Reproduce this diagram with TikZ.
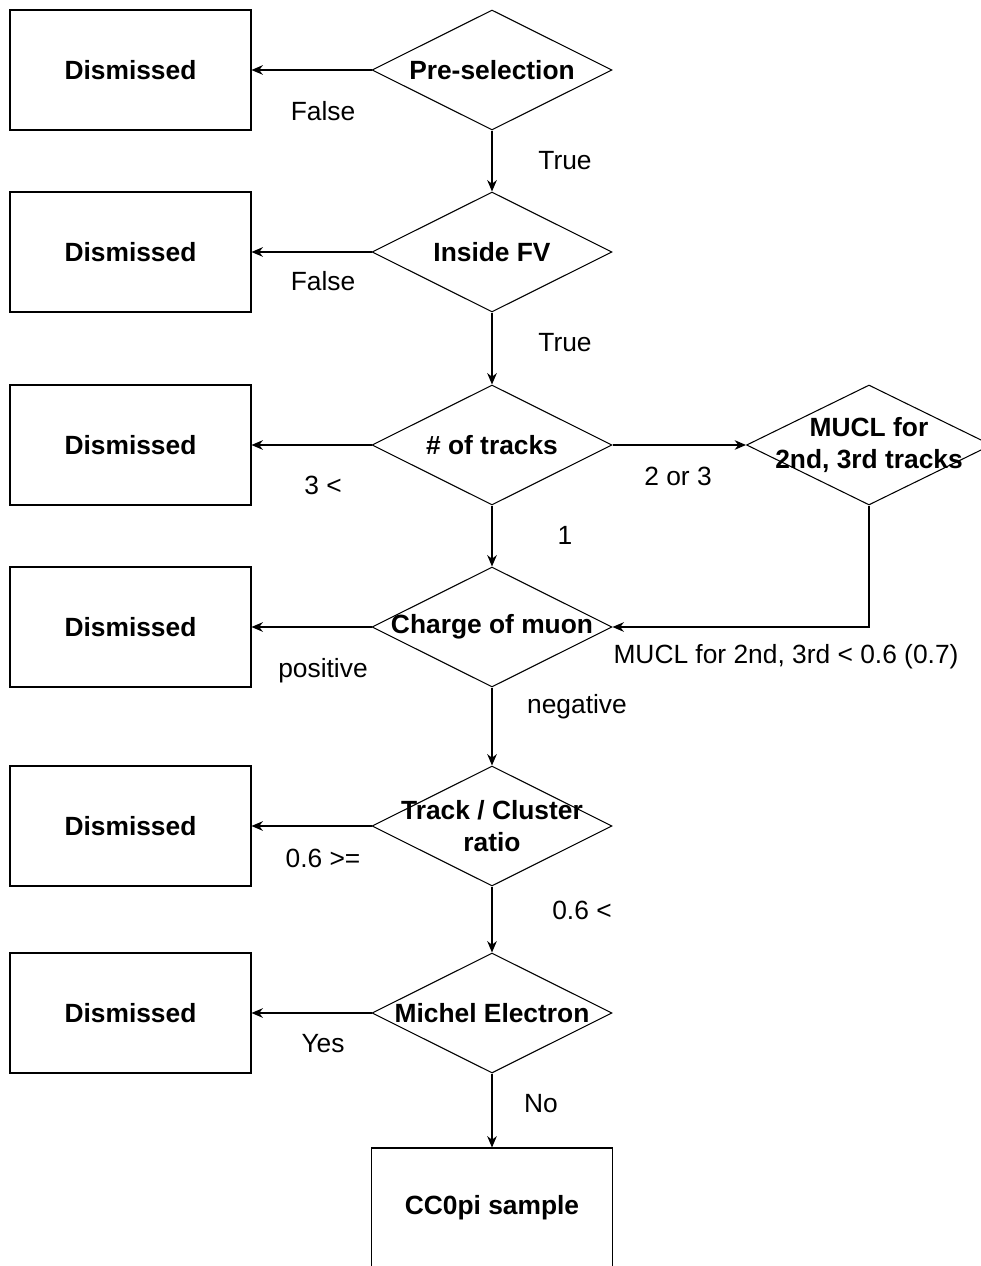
\documentclass[tikz,border=0pt]{standalone}
\usepackage{fontspec}
\setmainfont{Liberation Sans}
\usetikzlibrary{arrows.meta,shapes.geometric}

\begin{document}
\begin{tikzpicture}[x=0.02cm,y=-0.02cm,line width=0.6pt,>={Stealth[length=6.5pt,width=5.5pt]},
    box/.style={draw, minimum width=4.82cm, minimum height=2.4cm, inner sep=0pt,
                font=\fontsize{15}{18.5}\selectfont\bfseries, align=center},
    dec/.style={draw, diamond, minimum width=4.8cm, minimum height=2.4cm, inner sep=0pt},
    dtxt/.style={font=\fontsize{15}{18.5}\selectfont\bfseries, align=center, inner sep=0pt},
    lbl/.style={font=\fontsize{15}{18}\selectfont, inner sep=0pt, text height=10.7pt, text depth=0pt}]
  \useasboundingbox (0,0) rectangle (980,1266);
  % ---- rejected events ----
  \node[box] (b1) at (130.5,70)   {Dismissed};
  \node[box] (b2) at (130.5,252)  {Dismissed};
  \node[box] (b3) at (130.5,445)  {Dismissed};
  \node[box] (b4) at (130.5,627)  {Dismissed};
  \node[box] (b5) at (130.5,826)  {Dismissed};
  \node[box] (b6) at (130.5,1013) {Dismissed};
  % ---- cuts ----
  \node[dec] (d1) at (492,70)   {};
  \node[dec] (d2) at (492,252)  {};
  \node[dec] (d3) at (492,445)  {};
  \node[dec] (d4) at (492,627)  {};
  \node[dec] (d5) at (492,826)  {};
  \node[dec] (d6) at (492,1013) {};
  \node[dec, minimum width=4.9cm] (dm) at (869,445) {};
  \node[dtxt] (t1) at (d1) {Pre-selection};
  \node[dtxt] (t2) at (d2) {Inside FV};
  \node[dtxt] (t3) at (d3) {\# of tracks};
  \node[dtxt] (t4) at (d4) {Charge of muon};
  \node[dtxt] (t5) at (d5) {Track / Cluster\\ratio};
  \node[dtxt] (t6) at (d6) {Michel Electron};
  \node[dtxt] (tm) at (dm) {MUCL for\\2nd, 3rd tracks};
  \node[box] (cc) at (492,1208) {CC0pi sample};
  % ---- flow ----
  \foreach \i in {1,...,6} \draw[->] (d\i.west) -- (b\i.east);
  \draw[->] (d1.south) -- (d2.north);
  \draw[->] (d2.south) -- (d3.north);
  \draw[->] (d3.south) -- (d4.north);
  \draw[->] (d4.south) -- (d5.north);
  \draw[->] (d5.south) -- (d6.north);
  \draw[->] (d6.south) -- (cc.north);
  \draw[->] (d3.east) -- (dm.west);
  \draw[->] (dm.south) |- (d4.east);
  % ---- labels ----
  \node[lbl] (l1)  at (323,111)  {False};
  \node[lbl] (l2)  at (565,160)  {True};
  \node[lbl] (l3)  at (323,281)  {False};
  \node[lbl] (l4)  at (565,342)  {True};
  \node[lbl] (l5)  at (323,485)  {3 <};
  \node[lbl] (l6)  at (678,476)  {2 or 3};
  \node[lbl] (l7)  at (565,535)  {1};
  \node[lbl] (l8)  at (786,654)  {MUCL for 2nd, 3rd < 0.6 (0.7)};
  \node[lbl] (l9)  at (323,668)  {positive};
  \node[lbl] (l10) at (577,704)  {negative};
  \node[lbl] (l11) at (323,858)  {0.6 >=};
  \node[lbl] (l12) at (582,910)  {0.6 <};
  \node[lbl] (l13) at (323,1043) {Yes};
  \node[lbl] (l14) at (541,1103) {No};
\end{tikzpicture}
\end{document}
